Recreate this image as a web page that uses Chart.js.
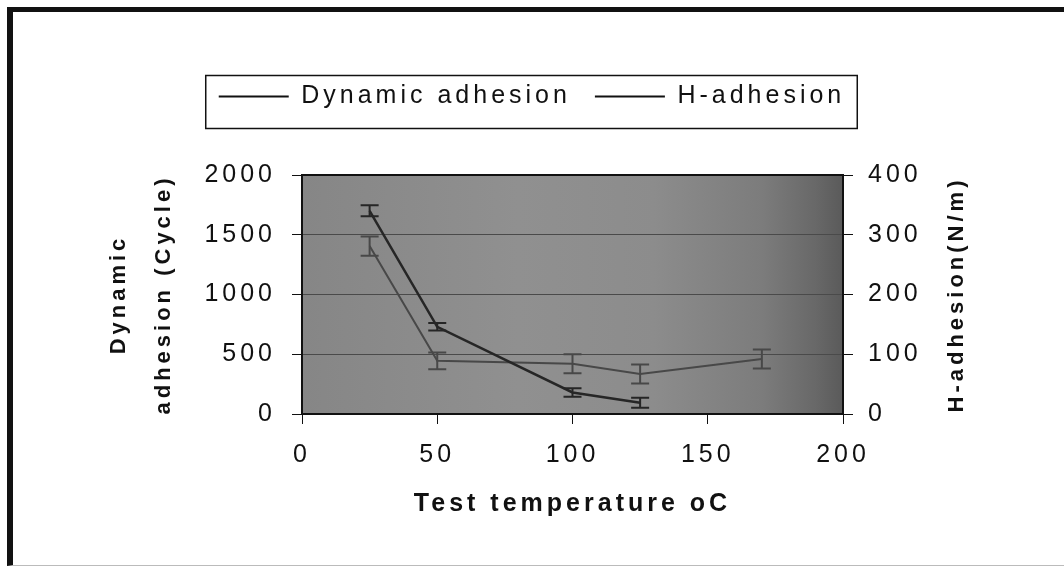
<!DOCTYPE html>
<html>
<head>
<meta charset="utf-8">
<script src="https://cdn.jsdelivr.net/npm/chart.js@4.4.0/dist/chart.umd.min.js"></script>
<style>
  html, body { margin: 0; padding: 0; background: #fff; }
  #wrap { position: relative; width: 1064px; height: 572px; overflow: hidden; }
  #frame { position: absolute; left: 7px; top: 7px; width: 1080px; height: 553px;
           border-left: 6px solid #111; border-top: 5px solid #111; border-bottom: 1px solid #bbb; }
  canvas { position: absolute; left: 0; top: 0; }
</style>
</head>
<body>
<div id="wrap">
  <div id="frame"></div>
  <canvas id="myChart" width="1064" height="572"></canvas>
</div>
<script>
// values
const temps1 = [25, 50, 100, 125];
const dynamicCycles = [1700, 730, 180, 95];
const dynamicErr = [46, 31, 36, 42];

const temps2 = [25, 50, 100, 125, 170];
const hAdhesion = [281, 89, 84, 67, 92];
const hErr = [16, 14, 16, 16, 16];

const xTicks = [0, 50, 100, 150, 200];
const leftTicks = [0, 500, 1000, 1500, 2000];
const rightTicks = [0, 100, 200, 300, 400];

const rightTitle = "H-adhesion(N/m)";

const FONT = '"Liberation Sans", Arial, sans-serif';
Chart.defaults.font.family = FONT;
Chart.defaults.color = "#111";

// the scanned text is very wide, so spread the letters a bit
const spacing = {
  id: "spacing",
  beforeLayout(chart) {
    chart.ctx.letterSpacing = "4px";
    const lg = chart.legend;
    if (lg && !lg._tallFit) {
      const fit = lg.fit;
      lg.fit = function () {
        fit.call(this);
        this.height = 115;
      };
      lg._tallFit = true;
    }
  },
  beforeDraw(chart) {
    chart.ctx.letterSpacing = "4px";
  }
};

const plotBack = {
  id: "plotBack",
  beforeDraw(chart) {
    const { ctx, chartArea: a } = chart;
    const g = ctx.createLinearGradient(a.left, 0, a.right, 0);
    g.addColorStop(0, "#868686");
    g.addColorStop(0.4, "#909090");
    g.addColorStop(0.65, "#8c8c8c");
    g.addColorStop(0.85, "#7c7c7c");
    g.addColorStop(0.95, "#686868");
    g.addColorStop(1, "#5a5a5a");
    ctx.save();
    ctx.fillStyle = g;
    ctx.fillRect(a.left, a.top, a.right - a.left, a.bottom - a.top);
    ctx.restore();
  },
  afterDraw(chart) {
    const { ctx, chartArea: a } = chart;
    ctx.save();
    ctx.strokeStyle = "#111";
    ctx.lineWidth = 2;
    ctx.strokeRect(a.left, a.top, a.right - a.left, a.bottom - a.top);

    // box round the legend
    const hb = chart.legend.legendHitBoxes;
    if (hb && hb.length) {
      const first = hb[0], last = hb[hb.length - 1];
      const mid = first.top + first.height / 2;
      ctx.lineWidth = 1.5;
      ctx.strokeRect(first.left - 13, mid - 21, last.left + last.width + 12 - (first.left - 13), 53);
    }

    // right axis title reads bottom to top
    const s = chart.scales.y1;
    ctx.translate(s.right - 107, (s.top + s.bottom) / 2);
    ctx.rotate(-Math.PI / 2);
    ctx.font = "bold 22px " + FONT;
    ctx.fillStyle = "#111";
    ctx.textAlign = "center";
    ctx.textBaseline = "middle";
    ctx.fillText(rightTitle, 0, 0);
    ctx.restore();
  }
};

const errorBars = {
  id: "errorBars",
  afterDatasetsDraw(chart) {
    const ctx = chart.ctx;
    chart.data.datasets.forEach((ds) => {
      const xs = chart.scales.x;
      const ys = chart.scales[ds.yAxisID];
      ctx.save();
      ctx.strokeStyle = ds.borderColor;
      ctx.lineWidth = 2;
      ds.data.forEach((p, i) => {
        const x = xs.getPixelForValue(p.x);
        const top = ys.getPixelForValue(p.y + ds.errors[i]);
        const bot = ys.getPixelForValue(p.y - ds.errors[i]);
        ctx.beginPath();
        ctx.moveTo(x, top); ctx.lineTo(x, bot);
        ctx.moveTo(x - 9, top); ctx.lineTo(x + 9, top);
        ctx.moveTo(x - 9, bot); ctx.lineTo(x + 9, bot);
        ctx.stroke();
      });
      ctx.restore();
    });
  }
};

const toTicks = (arr) => (scale) => { scale.ticks = arr.map(v => ({ value: v })); };
const plain = (v) => String(v);

new Chart("myChart", {
  type: "line",
  data: {
    datasets: [{
      label: "Dynamic adhesion",
      data: temps1.map((t, i) => ({ x: t, y: dynamicCycles[i] })),
      errors: dynamicErr,
      yAxisID: "y",
      borderColor: "#262626",
      backgroundColor: "#262626",
      borderWidth: 2.5,
      pointRadius: 0,
      tension: 0
    }, {
      label: "H-adhesion",
      data: temps2.map((t, i) => ({ x: t, y: hAdhesion[i] })),
      errors: hErr,
      yAxisID: "y1",
      borderColor: "#484848",
      backgroundColor: "#484848",
      borderWidth: 2,
      pointRadius: 0,
      tension: 0
    }]
  },
  options: {
    responsive: false,
    animation: false,
    layout: { padding: { top: 60, left: 0, right: 0, bottom: 0 } },
    plugins: {
      tooltip: { enabled: false },
      legend: {
        position: "top",
        labels: {
          font: { size: 25 },
          color: "#111",
          boxWidth: 70,
          boxHeight: 2,
          padding: 24,
          generateLabels(chart) {
            return Chart.defaults.plugins.legend.labels.generateLabels(chart)
              .map(l => ({ ...l, fillStyle: "#111", lineWidth: 0 }));
          }
        }
      }
    },
    scales: {
      x: {
        type: "linear",
        position: "bottom",
        min: xTicks[0],
        max: xTicks[xTicks.length - 1],
        afterBuildTicks: toTicks(xTicks),
        afterFit(scale) { scale.height = 158; },
        grid: { drawOnChartArea: false, color: "#111", tickLength: 10 },
        border: { color: "#111", width: 2 },
        ticks: { font: { size: 25 }, color: "#111", padding: 16, maxRotation: 0, callback: plain },
        title: {
          display: true,
          text: "Test temperature oC",
          color: "#111",
          font: { size: 25, weight: "bold" },
          padding: { top: 0, bottom: 53 }
        }
      },
      y: {
        type: "linear",
        position: "left",
        min: leftTicks[0],
        max: leftTicks[leftTicks.length - 1],
        afterBuildTicks: toTicks(leftTicks),
        afterFit(scale) { scale.width = 302; },
        grid: { color: "#4a4a4a", tickColor: "#111", tickLength: 10, lineWidth: 1 },
        border: { color: "#111", width: 2 },
        ticks: { font: { size: 25 }, color: "#111", padding: 16, callback: plain },
        title: {
          display: true,
          text: ["Dynamic", "adhesion (Cycle)"],
          color: "#111",
          font: { size: 22, weight: "bold", lineHeight: 2.05 },
          padding: { top: 96, bottom: 0 }
        }
      },
      y1: {
        type: "linear",
        position: "right",
        min: rightTicks[0],
        max: rightTicks[rightTicks.length - 1],
        afterBuildTicks: toTicks(rightTicks),
        afterFit(scale) { scale.width = 221; },
        grid: { drawOnChartArea: false, color: "#111", tickLength: 10 },
        border: { color: "#111", width: 2 },
        ticks: { font: { size: 25 }, color: "#111", padding: 15, callback: plain }
      }
    }
  },
  plugins: [spacing, plotBack, errorBars]
});
</script>
</body>
</html>
